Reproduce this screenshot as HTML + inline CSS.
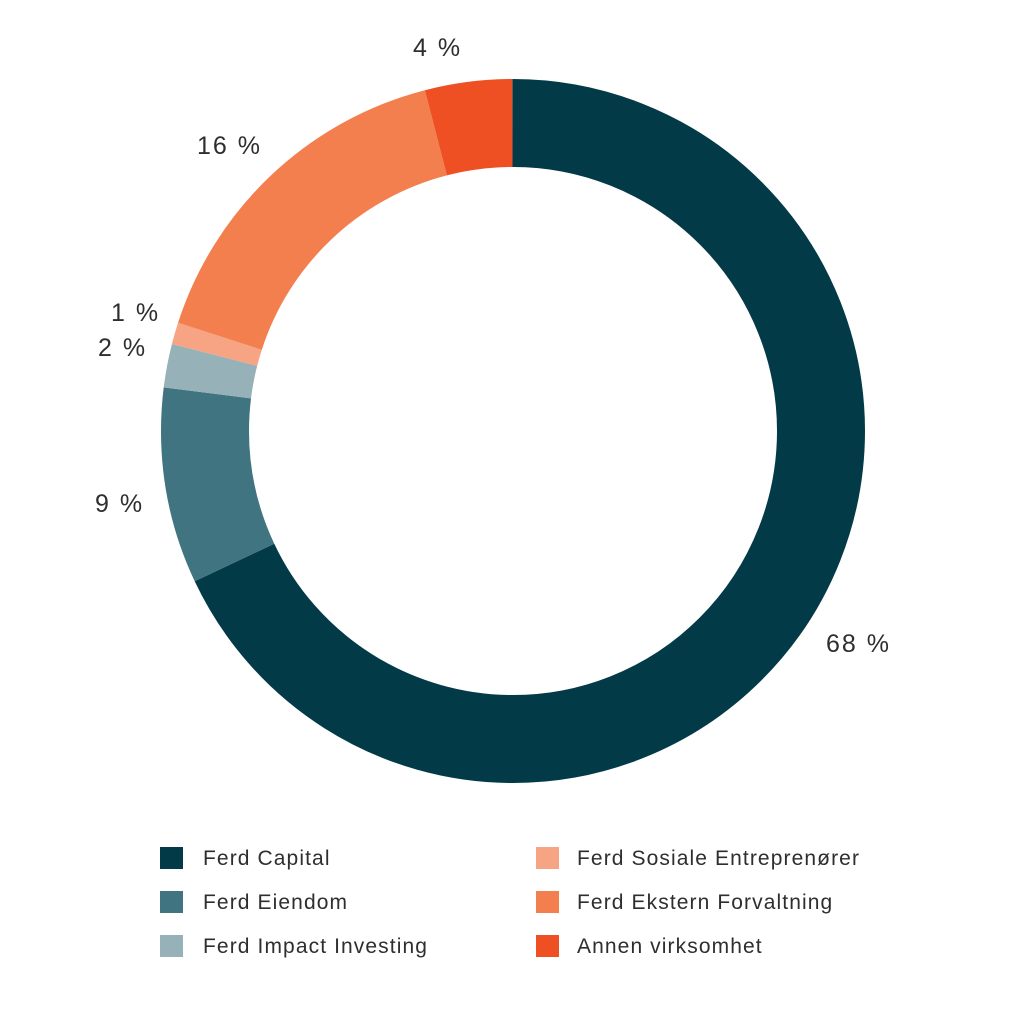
<!DOCTYPE html>
<html><head><meta charset="utf-8"><style>
html,body{margin:0;padding:0;background:#fff;}
body{width:1024px;height:1024px;overflow:hidden;}
text{font-family:"Liberation Sans",sans-serif;fill:#2e2e2e;}
</style></head><body>
<svg width="1024" height="1024" viewBox="0 0 1024 1024" xmlns="http://www.w3.org/2000/svg">
<g transform="rotate(-90 513 431)" fill="none" stroke-width="88">
<circle cx="513" cy="431" r="308" pathLength="100" stroke="#023a47" stroke-dasharray="68 32" stroke-dashoffset="0"/>
<circle cx="513" cy="431" r="308" pathLength="100" stroke="#3f7480" stroke-dasharray="9 91" stroke-dashoffset="-68"/>
<circle cx="513" cy="431" r="308" pathLength="100" stroke="#97b1b8" stroke-dasharray="2 98" stroke-dashoffset="-77"/>
<circle cx="513" cy="431" r="308" pathLength="100" stroke="#f6a483" stroke-dasharray="1 99" stroke-dashoffset="-79"/>
<circle cx="513" cy="431" r="308" pathLength="100" stroke="#f47f4e" stroke-dasharray="16 84" stroke-dashoffset="-80"/>
<circle cx="513" cy="431" r="308" pathLength="100" stroke="#ee4f23" stroke-dasharray="4 96" stroke-dashoffset="-96"/>
</g>
<g font-size="25" letter-spacing="2">
<text x="413" y="56">4 %</text>
<text x="197" y="154">16 %</text>
<text x="111" y="321">1 %</text>
<text x="98" y="356">2 %</text>
<text x="95" y="512">9 %</text>
<text x="826" y="652">68 %</text>
</g>
<g font-size="21" letter-spacing="1.1">
<rect x="160" y="847" width="23" height="22" fill="#023a47"/><text x="203" y="865">Ferd Capital</text>
<rect x="160" y="891" width="23" height="22" fill="#3f7480"/><text x="203" y="909">Ferd Eiendom</text>
<rect x="160" y="935" width="23" height="22" fill="#97b1b8"/><text x="203" y="953">Ferd Impact Investing</text>
<rect x="536" y="847" width="23" height="22" fill="#f6a483"/><text x="577" y="865">Ferd Sosiale Entreprenører</text>
<rect x="536" y="891" width="23" height="22" fill="#f47f4e"/><text x="577" y="909">Ferd Ekstern Forvaltning</text>
<rect x="536" y="935" width="23" height="22" fill="#ee4f23"/><text x="577" y="953">Annen virksomhet</text>
</g>
</svg>
</body></html>
